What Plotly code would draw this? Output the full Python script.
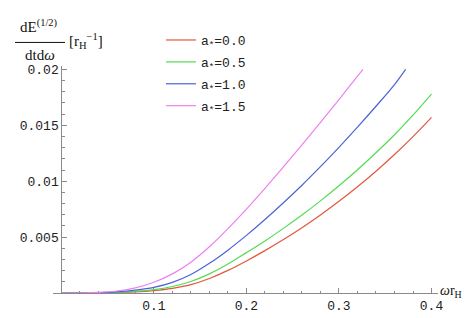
import plotly.graph_objects as go

# ---- data ----
omega_r = [0.0, 0.02, 0.04, 0.06, 0.08, 0.10, 0.12, 0.14, 0.16, 0.18, 0.20,
           0.22, 0.24, 0.26, 0.28, 0.30, 0.32, 0.34, 0.36, 0.38, 0.40]
dE_a00 = [0, 0, 0.00001, 0.00004, 0.0001, 0.00022, 0.00042, 0.00075, 0.0013, 0.00202, 0.00287,
          0.00379, 0.00478, 0.00584, 0.00698, 0.0082, 0.0095, 0.01089, 0.01238, 0.01398, 0.0157]
dE_a05 = [0, 0, 0.00002, 0.00006, 0.00014, 0.0003, 0.00058, 0.00103, 0.00171, 0.00259, 0.00361,
          0.00466, 0.00578, 0.00697, 0.00824, 0.00959, 0.01102, 0.01254, 0.01415, 0.0159, 0.01778]
omega_r_a10 = [0.0, 0.02, 0.04, 0.06, 0.08, 0.10, 0.12, 0.14, 0.16, 0.18, 0.20,
               0.22, 0.24, 0.26, 0.28, 0.30, 0.32, 0.34, 0.36, 0.372]
dE_a10 = [0, 0, 0.00003, 0.0001, 0.00025, 0.0005, 0.00095, 0.00165, 0.00265, 0.00383, 0.00515,
          0.00657, 0.00807, 0.00964, 0.0113, 0.01303, 0.01483, 0.0167, 0.01864, 0.0200]
omega_r_a15 = [0.0, 0.02, 0.04, 0.06, 0.08, 0.10, 0.12, 0.14, 0.16, 0.18, 0.20,
               0.22, 0.24, 0.26, 0.28, 0.30, 0.32, 0.326]
dE_a15 = [0, 0, 0.00005, 0.00018, 0.00046, 0.00096, 0.00171, 0.00276, 0.00413, 0.00575, 0.0075,
          0.00935, 0.01127, 0.01324, 0.01525, 0.0173, 0.01939, 0.0200]

series_names = ["a<sub>*</sub>=0.0", "a<sub>*</sub>=0.5", "a<sub>*</sub>=1.0", "a<sub>*</sub>=1.5"]
series_colors = ["#e2583c", "#52dc52", "#4a63d6", "#ee80ee"]

x_tickvals = [0.1, 0.2, 0.3, 0.4]
x_ticktext = ["0.1", "0.2", "0.3", "0.4"]
y_tickvals = [0.005, 0.01, 0.015, 0.02]
y_ticktext = ["0.005", "0.01", "0.015", "0.02"]

xs = [omega_r, omega_r, omega_r_a10, omega_r_a15]
ys = [dE_a00, dE_a05, dE_a10, dE_a15]

fig = go.Figure()
for i, (x, y) in enumerate(zip(xs, ys)):
    fig.add_trace(go.Scatter(
        x=x, y=y, mode="lines", name=series_names[i],
        line=dict(color=series_colors[i], width=1.2, shape="spline", smoothing=1.0),
        legendgroup=f"g{i}",
    ))

axis_col = "#8a8a8a"
mono = "Liberation Mono"
serif = "Liberation Serif"

L, R, T, B = 45, 43, 58, 19
W, H = 473, 318
pw, ph = W - L - R, H - T - B
xr = [-0.009, 0.407]
x0_frac = (0 - xr[0]) / (xr[1] - xr[0])

def px(xp):
    return (xp - L) / pw

def py(yp):
    return (H - B - yp) / ph

fig.update_layout(
    width=W, height=H,
    margin=dict(l=L, r=R, t=T, b=B),
    plot_bgcolor="white", paper_bgcolor="white",
    showlegend=True,
    legend=dict(
        x=px(153), y=py(14.5), xanchor="left", yanchor="top",
        font=dict(family=mono, size=13, color="#222"),
        bgcolor="rgba(0,0,0,0)", tracegroupgap=2, itemwidth=30,
    ),
    xaxis=dict(
        range=xr, showgrid=False, zeroline=False,
        showline=True, linecolor=axis_col, linewidth=1,
        ticks="inside", ticklen=5, tickcolor=axis_col,
        tickvals=x_tickvals, ticktext=x_ticktext,
        tickfont=dict(family=mono, size=13, color="#222"),
        minor=dict(ticks="inside", ticklen=2.5, tickcolor=axis_col, dtick=0.02, tick0=0, showgrid=False),
        layer="below traces",
    ),
    yaxis=dict(
        range=[0, 0.0203], showgrid=False, zeroline=False,
        anchor="free", position=x0_frac, side="left",
        showline=True, linecolor=axis_col, linewidth=1,
        ticks="inside", ticklen=5, tickcolor=axis_col,
        tickvals=y_tickvals, ticktext=y_ticktext,
        tickfont=dict(family=mono, size=13, color="#222"),
        minor=dict(ticks="inside", ticklen=2.5, tickcolor=axis_col, dtick=0.001, tick0=0, showgrid=False),
        layer="below traces",
    ),
)

# y-axis label as a fraction
fig.add_annotation(text="dE<sup>(1/2)</sup>", xref="paper", yref="paper",
                   x=px(31), y=py(16), xanchor="center", yanchor="middle", showarrow=False,
                   font=dict(family=serif, size=15, color="#111"))
fig.add_shape(type="line", xref="paper", yref="paper",
              x0=px(7), x1=px(57), y0=py(33), y1=py(33), line=dict(color="#111", width=1))
fig.add_annotation(text="dtd<i>ω</i>", xref="paper", yref="paper",
                   x=px(32), y=py(46), xanchor="center", yanchor="middle", showarrow=False,
                   font=dict(family=serif, size=15, color="#111"))
fig.add_annotation(text="[r<sub>H</sub><sup>−1</sup>]", xref="paper", yref="paper",
                   x=px(59), y=py(31), xanchor="left", yanchor="middle", showarrow=False,
                   font=dict(family=serif, size=15, color="#111"))
# x-axis label
fig.add_annotation(text="<i>ω</i>r<sub>H</sub>", xref="paper", yref="paper",
                   x=px(430), y=py(297), xanchor="left", yanchor="middle", showarrow=False,
                   font=dict(family=serif, size=14, color="#111"))

fig.write_html("out.html")
